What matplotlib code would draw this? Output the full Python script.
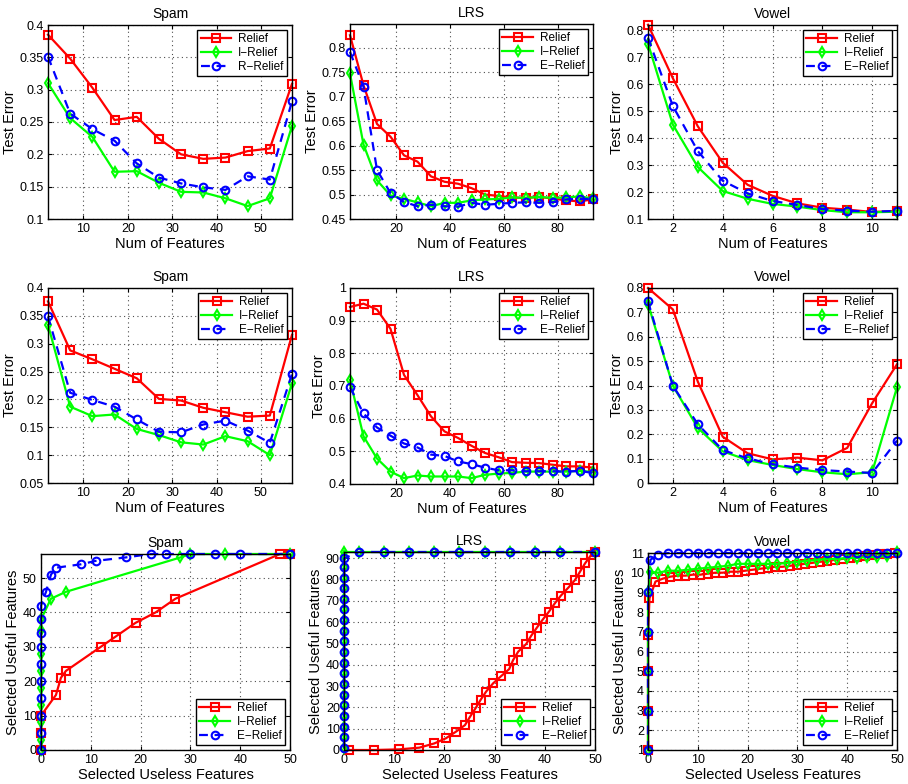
import matplotlib
matplotlib.use("Agg")
import matplotlib.pyplot as plt
from matplotlib.ticker import FormatStrFormatter

plt.rcParams['font.family'] = ['Liberation Sans', 'DejaVu Sans']

# ---- row 1: test error vs number of features ----
spam_x = [2, 7, 12, 17, 22, 27, 32, 37, 42, 47, 52, 57]
spam1_relief = [0.385, 0.348, 0.303, 0.253, 0.258, 0.224, 0.200, 0.193, 0.195, 0.205, 0.209, 0.309]
spam1_irelief = [0.310, 0.256, 0.227, 0.173, 0.174, 0.156, 0.142, 0.141, 0.132, 0.120, 0.132, 0.244]
spam1_rrelief = [0.351, 0.263, 0.239, 0.221, 0.186, 0.164, 0.155, 0.149, 0.145, 0.166, 0.161, 0.282]

lrs_x = [3, 8, 13, 18, 23, 28, 33, 38, 43, 48, 53, 58, 63, 68, 73, 78, 83, 88, 93]
lrs1_relief = [0.825, 0.723, 0.644, 0.618, 0.580, 0.567, 0.537, 0.526, 0.522, 0.513,
               0.500, 0.497, 0.494, 0.493, 0.495, 0.492, 0.488, 0.486, 0.490]
lrs1_irelief = [0.747, 0.602, 0.529, 0.498, 0.491, 0.484, 0.476, 0.483, 0.483, 0.488,
                0.490, 0.491, 0.494, 0.493, 0.495, 0.493, 0.494, 0.496, 0.492]
lrs1_erelief = [0.791, 0.720, 0.550, 0.503, 0.485, 0.476, 0.479, 0.476, 0.475, 0.483,
                0.479, 0.481, 0.483, 0.484, 0.483, 0.484, 0.490, 0.491, 0.491]

vowel_x = [1, 2, 3, 4, 5, 6, 7, 8, 9, 10, 11]
vowel1_relief = [0.821, 0.622, 0.444, 0.309, 0.227, 0.186, 0.158, 0.142, 0.135, 0.126, 0.130]
vowel1_irelief = [0.751, 0.450, 0.293, 0.204, 0.175, 0.156, 0.146, 0.133, 0.125, 0.125, 0.127]
vowel1_erelief = [0.772, 0.519, 0.352, 0.242, 0.195, 0.167, 0.152, 0.137, 0.131, 0.127, 0.130]

# ---- row 2: test error with useless features added ----
spam2_relief = [0.376, 0.288, 0.272, 0.255, 0.238, 0.201, 0.198, 0.185, 0.177, 0.169, 0.171, 0.316]
spam2_irelief = [0.334, 0.187, 0.170, 0.173, 0.147, 0.136, 0.123, 0.119, 0.134, 0.125, 0.100, 0.229]
spam2_erelief = [0.349, 0.212, 0.199, 0.187, 0.164, 0.142, 0.141, 0.155, 0.162, 0.144, 0.122, 0.246]

lrs2_relief = [0.942, 0.952, 0.934, 0.875, 0.734, 0.672, 0.607, 0.561, 0.541, 0.517,
               0.495, 0.482, 0.467, 0.465, 0.464, 0.459, 0.454, 0.454, 0.450]
lrs2_irelief = [0.719, 0.546, 0.478, 0.438, 0.418, 0.426, 0.423, 0.423, 0.423, 0.418,
                0.428, 0.432, 0.434, 0.438, 0.438, 0.438, 0.438, 0.440, 0.437]
lrs2_erelief = [0.696, 0.616, 0.573, 0.548, 0.524, 0.512, 0.490, 0.486, 0.469, 0.461,
                0.450, 0.442, 0.442, 0.439, 0.439, 0.439, 0.438, 0.440, 0.434]

vowel2_relief = [0.800, 0.712, 0.416, 0.190, 0.122, 0.097, 0.104, 0.093, 0.144, 0.327, 0.487]
vowel2_irelief = [0.735, 0.399, 0.226, 0.130, 0.094, 0.074, 0.057, 0.044, 0.036, 0.044, 0.393]
vowel2_erelief = [0.745, 0.399, 0.241, 0.135, 0.101, 0.077, 0.063, 0.053, 0.047, 0.041, 0.174]

# ---- row 3: selected useful vs selected useless features ----
spam3_relief_x = [0, 0, 0, 3, 4, 5, 12, 15, 19, 23, 27, 48, 50]
spam3_relief_y = [0, 5, 10, 16, 21, 23, 30, 33, 37, 40, 44, 57, 57]
spam3_irelief_x = [0, 0, 0, 0, 0, 0, 0, 0, 0, 2, 5, 28, 30, 37, 50]
spam3_irelief_y = [0, 3, 8, 13, 18, 23, 28, 35, 38, 44, 46, 56, 57, 57, 57]
spam3_erelief_x = [0, 0, 0, 0, 0, 0, 0, 0, 0, 0, 1, 2, 3, 8, 11, 17, 22, 25, 30, 35, 40, 50]
spam3_erelief_y = [0, 5, 10, 15, 20, 25, 30, 34, 38, 42, 46, 51, 53, 54, 55, 56, 57, 57, 57, 57, 57, 57]

lrs3_relief_x = [1, 6, 11, 15, 18, 20.3, 22.3, 24.1, 25.1, 26.2, 27.2, 28.3, 29.7, 31.3, 32.9,
                 33.7, 34.7, 36.3, 37.3, 38.4, 39.6, 40.8, 42, 43.2, 44.7, 46, 47, 48, 49.2, 50]
lrs3_relief_y = [0, 0, 0.3, 1.1, 3.1, 5.5, 8.6, 11.7, 15.6, 19.6, 23.5, 27.4, 31.3, 34.7, 38,
                 42.3, 46.2, 49.8, 53.7, 57.4, 61.3, 64.9, 68.9, 72.5, 76.3, 79.8, 83.7, 87.6, 91.5, 93]
lrs3_irelief_x = [0] * 20 + [3, 8, 13, 18, 23, 28, 33, 38, 43, 50]
lrs3_irelief_y = [1, 6, 11, 16, 21, 26, 31, 36, 41, 46, 51, 56, 61, 66, 71, 76, 81, 86, 91, 93,
                  93, 93, 93, 93, 93, 93, 93, 93, 93, 93]
lrs3_erelief_x = [0] * 19 + [3, 8, 13, 18, 23, 28, 33, 38, 43, 50]
lrs3_erelief_y = [1, 6, 11, 16, 21, 26, 31, 36, 41, 46, 51, 56, 61, 66, 71, 76, 81, 86, 90,
                  93, 93, 93, 93, 93, 93, 93, 93, 93, 93]

vowel3_relief_x = [0, 0, 0, 0, 0.3, 1.5, 3, 4.5, 6, 7.5, 9, 10.5, 12, 13.5, 15, 16.5, 18, 19.5,
                   21, 22.5, 24, 25.5, 27, 28.5, 30, 31.5, 33, 34.5, 36, 37.5, 39, 40.5, 42,
                   43.5, 45, 46.5, 48, 49.5]
vowel3_relief_y = [1, 3, 5, 6.85, 8.7, 9.55, 9.7, 9.8, 9.85, 9.85, 9.9, 9.9, 9.95, 10.0, 10.0,
                   10.05, 10.05, 10.1, 10.15, 10.2, 10.25, 10.3, 10.3, 10.35, 10.4, 10.45, 10.5,
                   10.55, 10.6, 10.65, 10.7, 10.75, 10.8, 10.85, 10.9, 10.95, 10.95, 11.0]
vowel3_irelief_x = [0, 0, 0, 0, 0, 0.5, 2, 4, 6, 8, 10, 12, 14, 16, 18, 20, 22, 24, 26, 28,
                    30, 32, 34, 36, 38, 40, 42, 44, 46, 48, 50]
vowel3_irelief_y = [1, 3, 5, 7, 9, 10.05, 10.0, 10.1, 10.1, 10.15, 10.2, 10.25, 10.3, 10.35,
                    10.45, 10.45, 10.45, 10.45, 10.45, 10.5, 10.55, 10.6, 10.65, 10.7, 10.7,
                    10.75, 10.75, 10.8, 10.8, 10.85, 11.05]
vowel3_erelief_x = [0, 0, 0, 0, 0, 0.5, 2, 4, 6, 8, 10, 12, 14, 16, 18, 20, 22, 24, 26, 28,
                    30, 32, 34, 36, 38, 40, 42, 44, 46, 48, 50]
vowel3_erelief_y = [1, 3, 5, 7, 9, 10.66, 10.9] + [11] * 24

RED, GREEN, BLUE = (1, 0, 0), (0, 1, 0), (0, 0, 1)

fig = plt.figure(figsize=(9.08, 7.84), dpi=100)
W, H = 908.0, 784.0


def make_axes(left, top, right, bottom):
    return fig.add_axes([left / W, (H - bottom) / H, (right - left) / W, (bottom - top) / H])


def draw(ax, series, names, title, xlabel, ylabel, xlim, ylim, xticks, yticks,
         yfmt, legend_loc, ms=5.5):
    styles = [(RED, 's', '-'), (GREEN, 'd', '-'), (BLUE, 'o', '--')]
    for (x, y), name, (c, m, ls) in zip(series, names, styles):
        ax.plot(x, y, color=c, marker=m, linestyle=ls, lw=1.6, ms=ms, mew=1.5,
                mfc='none', mec=c, label=name, clip_on=False,
                dashes=(4, 3) if ls == '--' else (None, None))
    ax.set_xlim(*xlim)
    ax.set_ylim(*ylim)
    ax.set_xticks(xticks)
    ax.set_yticks(yticks)
    ax.yaxis.set_major_formatter(FormatStrFormatter(yfmt))
    ax.grid(True, linestyle=(0, (1, 3)), color='0.3', lw=0.8)
    ax.tick_params(direction='in', length=3, labelsize=9, top=True, right=True, pad=3)
    for s in ax.spines.values():
        s.set_linewidth(1.0)
    ax.set_title(title, fontsize=10, pad=5)
    ax.set_xlabel(xlabel, fontsize=10.5, labelpad=1)
    ax.set_ylabel(ylabel, fontsize=10.5, labelpad=2)
    leg = ax.legend(loc=legend_loc, fontsize=8.5, frameon=True, fancybox=False,
                    edgecolor='black', framealpha=1, handlelength=2.6,
                    borderpad=0.3, labelspacing=0.15, handletextpad=0.6,
                    borderaxespad=0.4)
    leg.get_frame().set_linewidth(1.0)


names1 = ['Relief', 'I\u2212Relief', 'R\u2212Relief']
names = ['Relief', 'I\u2212Relief', 'E\u2212Relief']
te = 'Test Error'
nf = 'Num of Features'

ax = make_axes(48, 25, 292, 219)
draw(ax, [(spam_x, spam1_relief), (spam_x, spam1_irelief), (spam_x, spam1_rrelief)],
     names1, 'Spam', nf, te, (2, 57), (0.1, 0.4), [10, 20, 30, 40, 50],
     [0.1, 0.15, 0.2, 0.25, 0.3, 0.35, 0.4], '%g', 'upper right')

ax = make_axes(350, 24, 593, 219)
draw(ax, [(lrs_x, lrs1_relief), (lrs_x, lrs1_irelief), (lrs_x, lrs1_erelief)],
     names, 'LRS', nf, te, (3, 93), (0.45, 0.848), [20, 40, 60, 80],
     [0.45, 0.5, 0.55, 0.6, 0.65, 0.7, 0.75, 0.8], '%g', 'upper right')

ax = make_axes(648, 25, 897, 219)
draw(ax, [(vowel_x, vowel1_relief), (vowel_x, vowel1_irelief), (vowel_x, vowel1_erelief)],
     names, 'Vowel', nf, te, (1, 11), (0.1, 0.82), [2, 4, 6, 8, 10],
     [0.1, 0.2, 0.3, 0.4, 0.5, 0.6, 0.7, 0.8], '%g', 'upper right')

ax = make_axes(48, 288, 292, 483)
draw(ax, [(spam_x, spam2_relief), (spam_x, spam2_irelief), (spam_x, spam2_erelief)],
     names, 'Spam', nf, te, (2, 57), (0.05, 0.4), [10, 20, 30, 40, 50],
     [0.05, 0.1, 0.15, 0.2, 0.25, 0.3, 0.35, 0.4], '%g', 'upper right')

ax = make_axes(350, 288, 593, 484)
draw(ax, [(lrs_x, lrs2_relief), (lrs_x, lrs2_irelief), (lrs_x, lrs2_erelief)],
     names, 'LRS', nf, te, (3, 93), (0.4, 1.0), [20, 40, 60, 80],
     [0.4, 0.5, 0.6, 0.7, 0.8, 0.9, 1.0], '%g', 'upper right')

ax = make_axes(648, 288, 897, 483)
draw(ax, [(vowel_x, vowel2_relief), (vowel_x, vowel2_irelief), (vowel_x, vowel2_erelief)],
     names, 'Vowel', nf, te, (1, 11), (0, 0.8), [2, 4, 6, 8, 10],
     [0, 0.1, 0.2, 0.3, 0.4, 0.5, 0.6, 0.7, 0.8], '%g', 'upper right')

sl = 'Selected Useless Features'
su = 'Selected Useful Features'

ax = make_axes(41, 554, 290, 750)
draw(ax, [(spam3_relief_x, spam3_relief_y), (spam3_irelief_x, spam3_irelief_y),
          (spam3_erelief_x, spam3_erelief_y)],
     names, 'Spam', sl, su, (0, 50), (0, 57), [0, 10, 20, 30, 40, 50],
     [0, 10, 20, 30, 40, 50], '%g', 'lower right')

ax = make_axes(344, 552, 595, 750)
draw(ax, [(lrs3_relief_x, lrs3_relief_y), (lrs3_irelief_x, lrs3_irelief_y),
          (lrs3_erelief_x, lrs3_erelief_y)],
     names, 'LRS', sl, su, (0, 50), (0, 93), [0, 10, 20, 30, 40, 50],
     [0, 10, 20, 30, 40, 50, 60, 70, 80, 90], '%g', 'lower right')

ax = make_axes(648, 553, 897, 750)
draw(ax, [(vowel3_relief_x, vowel3_relief_y), (vowel3_irelief_x, vowel3_irelief_y),
          (vowel3_erelief_x, vowel3_erelief_y)],
     names, 'Vowel', sl, su, (0, 50), (1, 11), [0, 10, 20, 30, 40, 50],
     list(range(1, 12)), '%g', 'lower right')

fig.savefig('out.png', dpi=100)
